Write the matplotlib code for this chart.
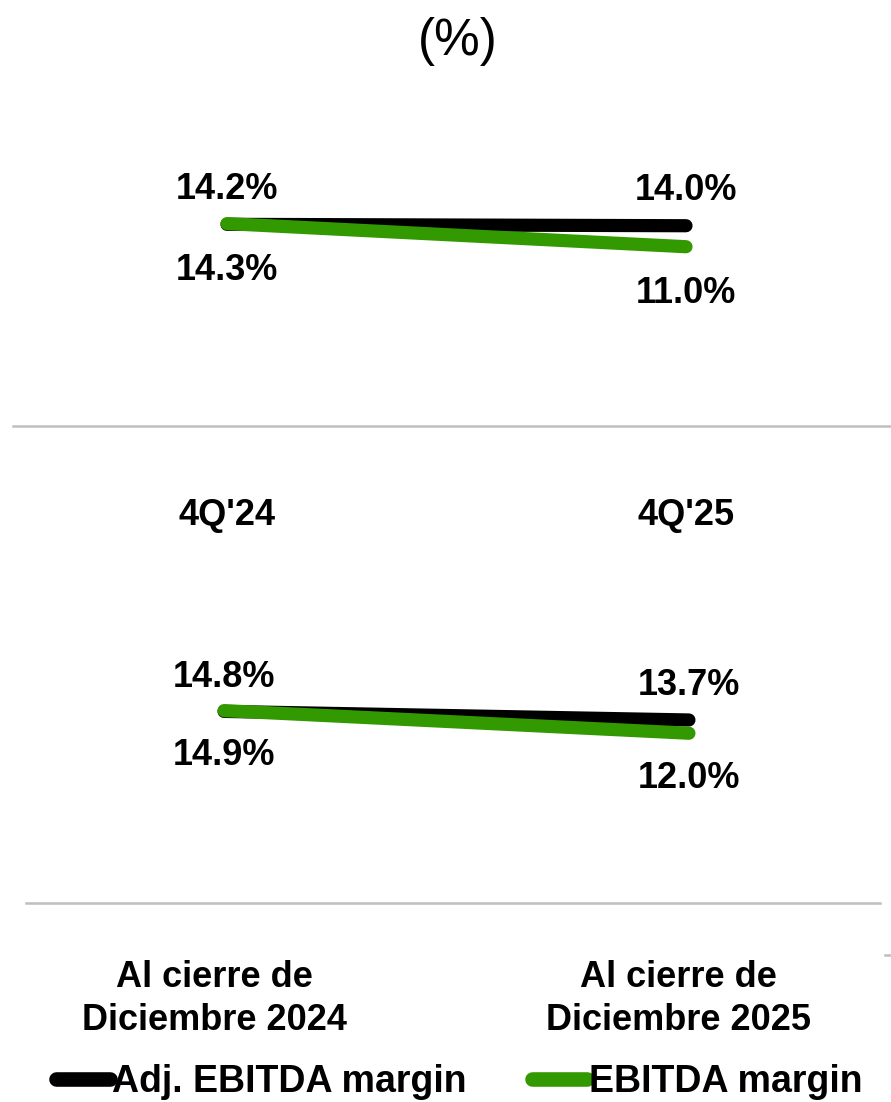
import matplotlib
matplotlib.use("Agg")
import matplotlib.pyplot as plt
from matplotlib.lines import Line2D
from matplotlib.transforms import ScaledTranslation

plt.rcParams['font.family'] = ['Liberation Sans', 'DejaVu Sans']

# ---- data ----
periods_top = ["4Q'24", "4Q'25"]
periods_bottom = ["Al cierre de\nDiciembre 2024", "Al cierre de\nDiciembre 2025"]
adj_top = [14.2, 14.0]
ebitda_top = [14.3, 11.0]
adj_bottom = [14.8, 13.7]
ebitda_bottom = [14.9, 12.0]
series_names = ["Adj. EBITDA margin", "EBITDA margin"]

BLACK = "#000000"
GREEN = "#339900"
GRAY = "#bfbfbf"

W, H = 891, 1102
fig = plt.figure(figsize=(W / 100, H / 100), dpi=100)

def px_rect(x0, y0, x1, y1):
    return [x0 / W, 1 - y1 / H, (x1 - x0) / W, (y1 - y0) / H]

LW = 9.5
FS = 26

def draw_panel(ax, labels, adj, eb, xlim, ylim, above_px, below_px, tick_pad, label_dx=0):
    xs = list(range(len(labels)))
    ax.plot(xs, adj, color=BLACK, lw=LW, solid_capstyle='round', zorder=2)
    ax.plot(xs, eb, color=GREEN, lw=LW, solid_capstyle='round', zorder=3)
    for x, v in zip(xs, adj):
        ax.annotate(f"{v:.1f}%", (x, v), xytext=(0, above_px * 0.72), textcoords='offset points',
                    ha='center', va='center', fontsize=FS, fontweight='bold', color=BLACK)
    for x, v in zip(xs, eb):
        ax.annotate(f"{v:.1f}%", (x, v), xytext=(0, -below_px * 0.72), textcoords='offset points',
                    ha='center', va='center', fontsize=FS, fontweight='bold', color=BLACK)
    ax.set_xlim(*xlim)
    ax.set_ylim(*ylim)
    ax.set_xticks(xs)
    ax.set_xticklabels(labels, fontsize=FS, fontweight='bold', linespacing=1.3)
    ax.tick_params(axis='x', length=0, pad=tick_pad)
    if label_dx:
        off = ScaledTranslation(label_dx / 100, 0, fig.dpi_scale_trans)
        for lab in ax.get_xticklabels():
            lab.set_transform(lab.get_transform() + off)
    ax.set_yticks([])
    for s in ['top', 'left', 'right']:
        ax.spines[s].set_visible(False)
    ax.spines['bottom'].set_color(GRAY)
    ax.spines['bottom'].set_linewidth(1.8)
    ax.patch.set_alpha(0)

# top panel
ax1 = fig.add_axes(px_rect(13, 100, 891, 426))
draw_panel(ax1, periods_top, adj_top, ebitda_top,
           xlim=(-0.4662, 1.4466), ylim=(-14.61, 31.96),
           above_px=35, below_px=47, tick_pad=52)

# bottom panel
ax2 = fig.add_axes(px_rect(26, 580, 880, 903))
draw_panel(ax2, periods_bottom, adj_bottom, ebitda_bottom,
           xlim=(-0.426, 1.411), ylim=(-9.77, 31.65),
           above_px=34, below_px=45, tick_pad=41, label_dx=-10)

# title fragment
fig.text(458 / W, 1 - 42 / H, "(%)", ha='center', va='center', fontsize=37, color=BLACK)

# small decorative gray tick at right edge
fig.add_artist(Line2D([885 / W, 1.0], [1 - 955 / H, 1 - 955 / H], color=GRAY, lw=1.8,
                      transform=fig.transFigure))

# legend
handles = [Line2D([], [], color=BLACK, lw=10.5, solid_capstyle='round'),
           Line2D([], [], color=GREEN, lw=10.5, solid_capstyle='round')]
fig.legend(handles, series_names, loc='center', bbox_to_anchor=(459 / W, 1 - 1082 / H),
           ncol=2, frameon=False, handlelength=1.45, handletextpad=0.05, columnspacing=1.75,
           borderpad=0, prop={'size': 27, 'weight': 'bold'})

fig.savefig("out.png", dpi=100)
